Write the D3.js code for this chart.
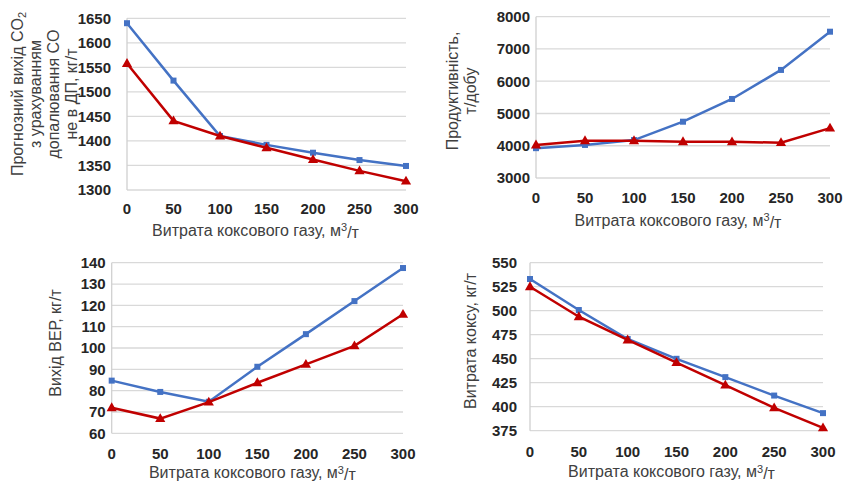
<!DOCTYPE html>
<html>
<head>
<meta charset="utf-8">
<script src="https://cdn.jsdelivr.net/npm/d3@7"></script>
<style>
  body { margin: 0; background: #fff; }
  text { font-family: "Liberation Sans", Arial, sans-serif; }
</style>
</head>
<body>
<div id="chart-area"></div>
<script>
// data
var gasFlow = [0, 50, 100, 150, 200, 250, 300];

var co2Blue = [1640, 1523, 1410, 1392, 1376, 1361, 1349];
var co2Red  = [1558, 1441, 1410, 1386, 1362, 1339, 1318];

var prodBlue = [3925, 4025, 4175, 4745, 5450, 6350, 7535];
var prodRed  = [4025, 4155, 4155, 4125, 4120, 4095, 4545];

var verBlue = [84.7, 79.4, 74.8, 91.2, 106.5, 122, 137.5];
var verRed  = [72, 66.9, 74.6, 83.7, 92.3, 101, 115.8];

var cokeBlue = [533, 500.7, 470.5, 449.9, 430.8, 411.6, 393.3];
var cokeRed  = [525, 493.7, 469.5, 446, 422.5, 398.8, 378];

var co2Ticks  = [1300, 1350, 1400, 1450, 1500, 1550, 1600, 1650];
var prodTicks = [3000, 4000, 5000, 6000, 7000, 8000];
var verTicks  = [60, 70, 80, 90, 100, 110, 120, 130, 140];
var cokeTicks = [375, 400, 425, 450, 475, 500, 525, 550];

var xTitle = "Витрата коксового газу, м";

var blue = "#4472c4", red = "#c00000";

var svg = d3.select("#chart-area").append("svg")
    .attr("width", 845)
    .attr("height", 483);

var panels = [
    {left: 127, right: 406, top: 18.3, bottom: 190, ticks: co2Ticks, blue: co2Blue, red: co2Red,
     tickPad: 16, xLab: 19, xTit: 40, xTitShift: -11,
     yTitle: [["Прогнозний вихід CO", "2"], ["з урахуванням"], ["допалювання CO"], ["не в ДП, кг/т"]],
     yTitX: 17, yTitY: 94},
    {left: 536, right: 830, top: 16.7, bottom: 178, ticks: prodTicks, blue: prodBlue, red: prodRed,
     tickPad: 6, xLab: 20, xTit: 42, xTitShift: -5,
     yTitle: [["Продуктивність,"], ["т/добу"]],
     yTitX: 452, yTitY: 91},
    {left: 111.7, right: 403, top: 262.7, bottom: 433.3, ticks: verTicks, blue: verBlue, red: verRed,
     tickPad: 6, xLab: 20, xTit: 39, xTitShift: -5,
     yTitle: [["Вихід ВЕР, кг/т"]],
     yTitX: 55, yTitY: 343},
    {left: 530, right: 823, top: 262.7, bottom: 430.7, ticks: cokeTicks, blue: cokeBlue, red: cokeRed,
     tickPad: 13, xLab: 21, xTit: 41, xTitShift: -5,
     yTitle: [["Витрата коксу, кг/т"]],
     yTitX: 470, yTitY: 341}
];

panels.forEach(function(p) {
    var x = d3.scaleLinear().domain([0, 300]).range([p.left, p.right]);
    var y = d3.scaleLinear().domain(d3.extent(p.ticks)).range([p.bottom, p.top]);
    var g = svg.append("g");

    // horizontal grid
    g.selectAll(".grid")
        .data(p.ticks)
        .enter().append("line")
        .attr("x1", p.left).attr("x2", p.right)
        .attr("y1", function(d) { return y(d); })
        .attr("y2", function(d) { return y(d); })
        .style("stroke", "#d9d9d9")
        .style("stroke-width", 1.3);

    // left axis line
    g.append("line")
        .attr("x1", p.left).attr("x2", p.left)
        .attr("y1", p.top).attr("y2", p.bottom)
        .style("stroke", "#d0d0d0")
        .style("stroke-width", 1.3);

    // y tick labels
    g.selectAll(".ytick")
        .data(p.ticks)
        .enter().append("text")
        .attr("x", p.left - p.tickPad)
        .attr("y", function(d) { return y(d); })
        .attr("dy", "0.36em")
        .style("text-anchor", "end")
        .style("font-weight", "bold")
        .style("font-size", "15px")
        .style("fill", "#262626")
        .text(function(d) { return d; });

    // x tick labels
    g.selectAll(".xtick")
        .data(gasFlow)
        .enter().append("text")
        .attr("x", function(d) { return x(d); })
        .attr("y", p.bottom + p.xLab)
        .attr("dy", "0.36em")
        .style("text-anchor", "middle")
        .style("font-weight", "bold")
        .style("font-size", "15px")
        .style("fill", "#262626")
        .text(function(d) { return d; });

    // x title
    var xt = g.append("text")
        .attr("x", (p.left + p.right) / 2 + p.xTitShift)
        .attr("y", p.bottom + p.xTit)
        .attr("dy", "0.36em")
        .style("text-anchor", "middle")
        .style("font-size", "16px")
        .style("fill", "#404040");
    xt.append("tspan").text(xTitle);
    xt.append("tspan").attr("dy", "-0.4em").style("font-size", "11px").text("3");
    xt.append("tspan").attr("dy", "0.4em").text("/т");

    // y title, rotated
    p.yTitle.forEach(function(line, i) {
        var t = g.append("text")
            .attr("transform", "translate(" + (p.yTitX + i * 18) + "," + p.yTitY + ") rotate(-90)")
            .attr("dy", "0.36em")
            .style("text-anchor", "middle")
            .style("font-size", "16px")
            .style("fill", "#404040");
        t.append("tspan").text(line[0]);
        if (line[1]) t.append("tspan").attr("dy", "0.3em").style("font-size", "11px").text(line[1]);
    });

    var line = d3.line()
        .x(function(d, i) { return x(gasFlow[i]); })
        .y(function(d) { return y(d); });

    // blue series
    g.append("path")
        .datum(p.blue)
        .attr("d", line)
        .style("fill", "none")
        .style("stroke", blue)
        .style("stroke-width", 2.5);
    g.selectAll(".sq")
        .data(p.blue)
        .enter().append("rect")
        .attr("x", function(d, i) { return x(gasFlow[i]) - 3; })
        .attr("y", function(d) { return y(d) - 3; })
        .attr("width", 6).attr("height", 6)
        .style("fill", blue);

    // red series
    g.append("path")
        .datum(p.red)
        .attr("d", line)
        .style("fill", "none")
        .style("stroke", red)
        .style("stroke-width", 2.5);
    g.selectAll(".tri")
        .data(p.red)
        .enter().append("path")
        .attr("d", d3.symbol().type(d3.symbolTriangle).size(45))
        .attr("transform", function(d, i) { return "translate(" + x(gasFlow[i]) + "," + (y(d) + 0.5) + ")"; })
        .style("fill", red);
});
</script>
</body>
</html>
